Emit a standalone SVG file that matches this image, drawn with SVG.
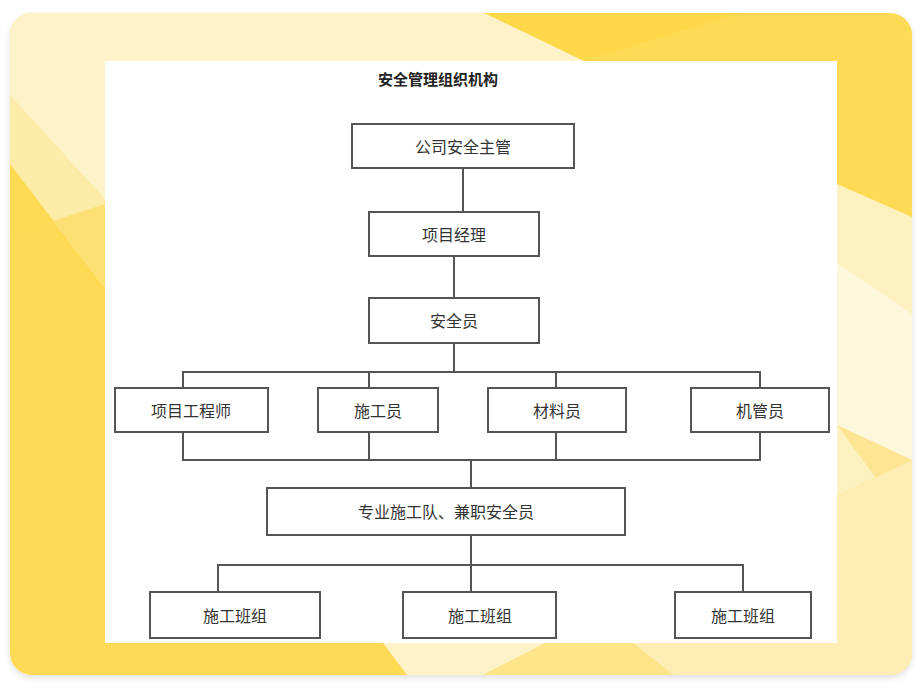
<svg xmlns="http://www.w3.org/2000/svg" width="920" height="690" viewBox="0 0 920 690">
<defs>
<clipPath id="card"><rect x="10" y="13" width="902" height="662" rx="22"/></clipPath>
<filter id="sh" x="-5%" y="-5%" width="110%" height="110%"><feDropShadow dx="0" dy="3" stdDeviation="3" flood-color="#000" flood-opacity="0.12"/></filter>
</defs>
<style>
.box{fill:#fff;stroke:#555;stroke-width:2}
.lbl{font-family:"Noto Sans CJK SC","Noto Sans",sans-serif;font-size:16px;fill:#333;text-anchor:middle;dominant-baseline:central}
.ttl{font-family:"Noto Sans CJK SC","Noto Sans",sans-serif;font-size:15px;font-weight:bold;fill:#222;text-anchor:middle}
.ln{stroke:#555;stroke-width:2;fill:none}
</style>
<rect width="920" height="690" fill="#fff"/>
<g id="background">
<rect x="10" y="13" width="902" height="662" rx="22" fill="#FFDA55" filter="url(#sh)"/>
<g clip-path="url(#card)">
<polygon points="484,13 740,13 584,61" fill="#FFD84A"/>
<polygon points="10,13 484,13 584,61 105,61 105,288 10,164" fill="#FEF3C8"/>
<polygon points="10,95 105,199 105,288 10,164" fill="#FDEBA8"/>
<polygon points="10,164 105,288 105,204 10,235" fill="#FDD850" opacity="0.6"/>
<polygon points="837,184 912,217 912,460 837,496" fill="#FEF1C0"/>
<polygon points="837,263 912,314 912,460 837,425" fill="#FFF7DC"/>
<polygon points="837,425 912,527 912,460" fill="#FEE594"/>
<polygon points="837,496 912,460 912,675 837,675" fill="#FEEDB5"/>
<polygon points="383,643 546,643 483,675 407,675" fill="#FEF3C8"/>
<polygon points="546,643 633,643 673,675 483,675" fill="#FEE58A"/>
<polygon points="633,643 837,643 837,675 673,675" fill="#FEEDB5"/>
<rect x="837" y="643" width="75" height="32" fill="#FEEDB5"/>
</g>
<rect x="105" y="61" width="732" height="582" fill="#fff"/>
</g>
<text id="title" class="ttl" x="438" y="85">安全管理组织机构</text>
<g id="connectors">
<line class="ln" x1="463" y1="168" x2="463" y2="212"/>
<line class="ln" x1="454" y1="256" x2="454" y2="298"/>
<line class="ln" x1="454" y1="343" x2="454" y2="372"/>
<polyline class="ln" points="183,388 183,372 760,372 760,388"/>
<line class="ln" x1="369" y1="372" x2="369" y2="388"/>
<line class="ln" x1="556" y1="372" x2="556" y2="388"/>
<polyline class="ln" points="183,432 183,460 760,460 760,432"/>
<line class="ln" x1="369" y1="432" x2="369" y2="460"/>
<line class="ln" x1="556" y1="432" x2="556" y2="460"/>
<line class="ln" x1="471" y1="460" x2="471" y2="488"/>
<line class="ln" x1="471" y1="535" x2="471" y2="592"/>
<polyline class="ln" points="218,592 218,565 743,565 743,592"/>
</g>
<g id="n1"><rect class="box" x="352" y="124" width="222" height="44"/><text class="lbl" x="463" y="146">公司安全主管</text></g>
<g id="n2"><rect class="box" x="369" y="212" width="170" height="44"/><text class="lbl" x="454" y="234">项目经理</text></g>
<g id="n3"><rect class="box" x="369" y="298" width="170" height="45"/><text class="lbl" x="454" y="320">安全员</text></g>
<g id="n4"><rect class="box" x="115" y="388" width="153" height="44"/><text class="lbl" x="191" y="410">项目工程师</text></g>
<g id="n5"><rect class="box" x="318" y="388" width="120" height="44"/><text class="lbl" x="378" y="410">施工员</text></g>
<g id="n6"><rect class="box" x="488" y="388" width="138" height="44"/><text class="lbl" x="557" y="410">材料员</text></g>
<g id="n7"><rect class="box" x="691" y="388" width="138" height="44"/><text class="lbl" x="760" y="410">机管员</text></g>
<g id="n8"><rect class="box" x="267" y="488" width="358" height="47"/><text class="lbl" x="446" y="511">专业施工队、兼职安全员</text></g>
<g id="n9"><rect class="box" x="150" y="592" width="170" height="46"/><text class="lbl" x="235" y="615">施工班组</text></g>
<g id="n10"><rect class="box" x="403" y="592" width="153" height="46"/><text class="lbl" x="480" y="615">施工班组</text></g>
<g id="n11"><rect class="box" x="675" y="592" width="136" height="46"/><text class="lbl" x="743" y="615">施工班组</text></g>
</svg>
